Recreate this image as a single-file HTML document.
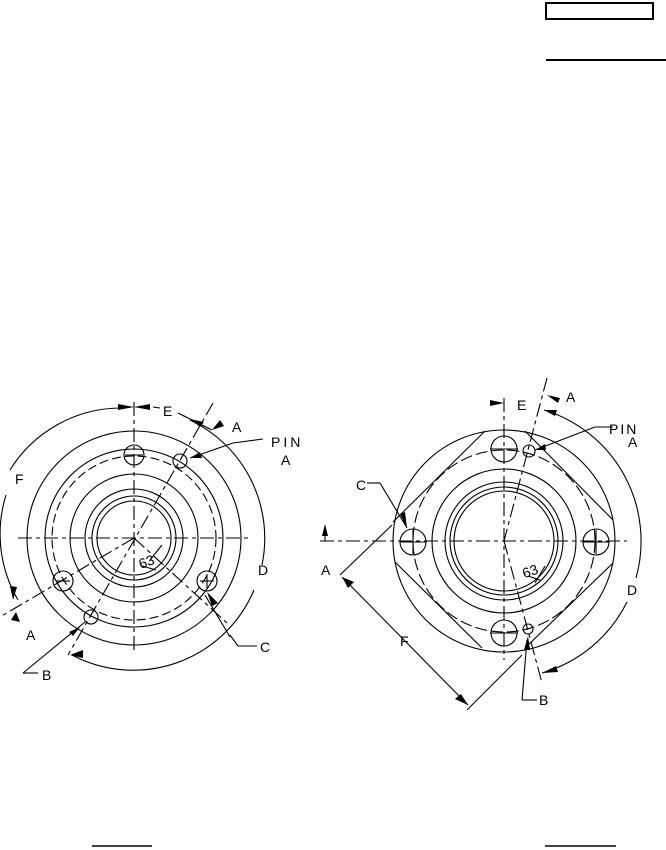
<!DOCTYPE html>
<html><head><meta charset="utf-8"><style>
html,body{margin:0;padding:0;background:#fff;}
svg{display:block;}
text{font-family:"Liberation Sans",sans-serif;font-size:14px;fill:#000;}
</style></head><body>
<svg width="666" height="850" viewBox="0 0 666 850" xmlns="http://www.w3.org/2000/svg">
<g fill="none" stroke="#000" stroke-width="1.1">
<rect x="546" y="3" width="107" height="16" stroke-width="2"/>
<line x1="546" y1="60" x2="666" y2="60" stroke-width="2"/>
<line x1="92" y1="846" x2="152" y2="846" stroke-width="1.5"/>
<line x1="545" y1="846" x2="616" y2="846" stroke-width="1.5"/>

<!-- LEFT DRAWING -->
<circle cx="134" cy="538" r="107"/>
<circle cx="134" cy="538" r="89"/>
<circle cx="134" cy="538" r="82" stroke-dasharray="9,4"/>
<circle cx="134" cy="538" r="64"/>
<circle cx="134" cy="538" r="49"/>
<circle cx="134" cy="538" r="42"/>
<circle cx="134" cy="538" r="37"/>
<circle cx="134" cy="455" r="10"/>
<circle cx="63" cy="581" r="10"/>
<circle cx="207" cy="581" r="10"/>
<circle cx="180" cy="461" r="7"/>
<circle cx="91" cy="617" r="7"/>
<line x1="18" y1="538" x2="250" y2="538" stroke-dasharray="14,4,4,4"/>
<line x1="134" y1="402" x2="134" y2="650" stroke-dasharray="14,4,4,4"/>
<line x1="125" y1="455" x2="143" y2="455"/>
<line x1="56" y1="581" x2="70" y2="581"/>
<line x1="200" y1="581" x2="214" y2="581"/>
<line x1="207" y1="574" x2="207" y2="588"/>
<line x1="213" y1="403" x2="68" y2="655" stroke-dasharray="14,4,4,4"/>
<line x1="134" y1="538" x2="0" y2="617" stroke-dasharray="14,4,4,4"/>
<line x1="134" y1="538" x2="227" y2="623" stroke-dasharray="14,4,4,4"/>
<path d="M120 408 A131 131 0 0 0 10 470"/>
<path d="M6 495 A131 131 0 0 0 18 600"/>
<path d="M190 420 A131 131 0 0 1 262 565"/>
<path d="M254 590 A131 131 0 0 1 72 655"/>
<line x1="153" y1="407" x2="160" y2="408"/>
<line x1="178" y1="413" x2="212" y2="430"/>
<line x1="233" y1="443" x2="263" y2="439"/>
<line x1="233" y1="443" x2="190" y2="458"/>
<line x1="23" y1="673" x2="85" y2="622"/>
<line x1="23" y1="673" x2="38" y2="673"/>
<line x1="230" y1="635" x2="238" y2="646"/>
<line x1="238" y1="646" x2="257" y2="646"/>
<line x1="205" y1="595" x2="230" y2="637"/>
<line x1="150" y1="560" x2="162" y2="545"/>
<line x1="142" y1="566" x2="156" y2="570"/>

<!-- RIGHT DRAWING -->
<circle cx="504" cy="541" r="111"/>
<circle cx="504" cy="541" r="91" stroke-dasharray="12,4"/>
<circle cx="504" cy="541" r="72"/>
<circle cx="504" cy="541" r="59"/>
<circle cx="504" cy="541" r="54"/>
<circle cx="504" cy="541" r="50"/>
<circle cx="504" cy="449" r="13"/>
<circle cx="413" cy="542" r="13"/>
<circle cx="596" cy="542" r="13"/>
<circle cx="504" cy="633" r="13"/>
<circle cx="529" cy="451" r="6"/>
<circle cx="528" cy="629" r="5"/>
<line x1="320" y1="541" x2="627" y2="541" stroke-dasharray="14,4,4,4"/>
<line x1="504" y1="398" x2="504" y2="660" stroke-dasharray="14,4,4,4"/>
<line x1="490" y1="449" x2="518" y2="449"/>
<line x1="413" y1="530" x2="413" y2="554"/>
<line x1="400" y1="542" x2="426" y2="542"/>
<line x1="596" y1="530" x2="596" y2="554"/>
<line x1="583" y1="542" x2="609" y2="542"/>
<line x1="490" y1="633" x2="518" y2="633"/>
<line x1="485" y1="431" x2="393" y2="522"/>
<line x1="395" y1="562" x2="482" y2="648"/>
<line x1="525" y1="431" x2="613" y2="520"/>
<line x1="613" y1="563" x2="525" y2="648"/>
<line x1="547" y1="378" x2="504" y2="541" stroke-dasharray="14,4,4,4"/>
<line x1="504" y1="541" x2="542" y2="683" stroke-dasharray="14,4,4,4"/>
<path d="M544 410 A137 137 0 0 1 636 578"/>
<path d="M627 602 A137 137 0 0 1 542 673"/>
<line x1="342" y1="577" x2="468" y2="705"/>
<line x1="340" y1="575" x2="392" y2="525"/>
<line x1="467" y1="710" x2="522" y2="655"/>
<line x1="367" y1="483" x2="380" y2="483"/>
<line x1="380" y1="483" x2="407" y2="528"/>
<line x1="595" y1="427" x2="613" y2="427"/>
<line x1="595" y1="427" x2="535" y2="450"/>
<line x1="522" y1="700" x2="527" y2="640"/>
<line x1="522" y1="700" x2="537" y2="700"/>
<line x1="325" y1="530" x2="325" y2="541"/>
<line x1="535" y1="583" x2="545" y2="566"/>
<line x1="528" y1="576" x2="540" y2="580"/>
</g>
<g fill="#000" stroke="none">
<polygon points="134,407 118,404 118,410"/>
<polygon points="134,407 150,404 150,410"/>
<polygon points="190,419 204,422 200,427"/>
<polygon points="212,430 220,420 224,426"/>
<polygon points="190,458 200,452 202,458"/>
<polygon points="13,600 10,586 17,587"/>
<polygon points="16,612 11,620 20,622"/>
<polygon points="80,627 73,636 69,632"/>
<polygon points="70,655 83,650 83,658"/>
<polygon points="207,592 212,606 218,603"/>
<polygon points="504,403 490,400 490,406"/>
<polygon points="547,395 560,398 558,403"/>
<polygon points="544,410 557,410 555,416"/>
<polygon points="535,450 545,444 546,450"/>
<polygon points="342,577 354,582 348,588"/>
<polygon points="468,705 455,699 461,694"/>
<polygon points="407,528 400,514 405,512"/>
<polygon points="325,524 322,536 328,536"/>
<polygon points="528,636 524,650 530,650"/>
<polygon points="542,673 556,666 558,672"/>
</g>
<text x="163" y="416">E</text>
<text x="232" y="432">A</text>
<text x="271" y="447" letter-spacing="3">PIN</text>
<text x="281" y="465">A</text>
<text x="15" y="484">F</text>
<text x="258" y="575">D</text>
<text x="260" y="652">C</text>
<text x="26" y="640">A</text>
<text x="42" y="680">B</text>
<text x="138" y="567" font-size="12" transform="rotate(-20 145 560)">63</text>

<text x="517" y="410" font-size="12">E</text>
<text x="566" y="402" font-size="12">A</text>
<text x="609" y="434" font-size="12" letter-spacing="2">PIN</text>
<text x="628" y="447" font-size="12">A</text>
<text x="356" y="490" font-size="12">C</text>
<text x="321" y="575" font-size="12">A</text>
<text x="400" y="646" font-size="12">F</text>
<text x="627" y="595" font-size="12">D</text>
<text x="539" y="705" font-size="12">B</text>
<text x="522" y="576" font-size="12" transform="rotate(-20 530 570)">63</text>
</svg>
</body></html>
